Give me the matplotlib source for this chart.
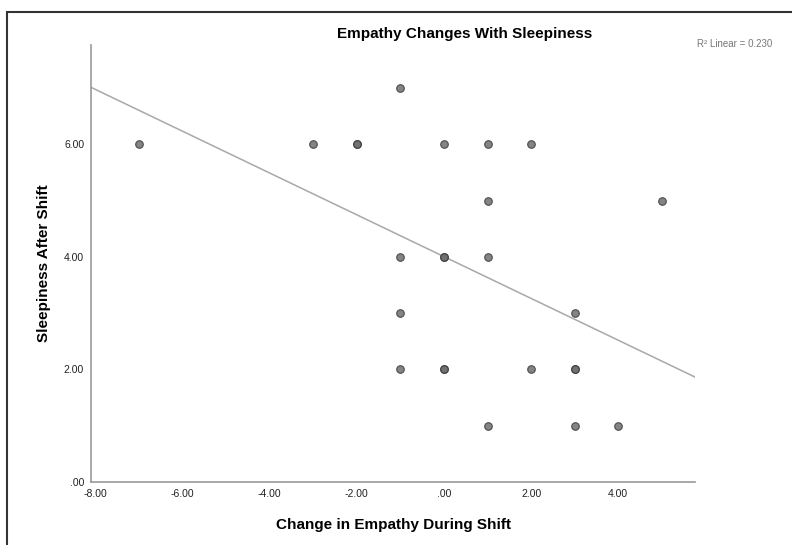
import numpy as np
import matplotlib.pyplot as plt
from matplotlib.patches import Rectangle

plt.rcParams['font.family'] = ['Liberation Sans', 'DejaVu Sans']

# Change in empathy (x) vs sleepiness after shift (y); repeated pairs are overlapping cases
empathy_change = [-7, -3, -2, -2, -1, 0, 1, 2, 1, 5, -1, 0, 0, 1, -1, 3,
                  -1, 0, 0, 2, 3, 3, 1, 3, 4]
sleepiness = [6, 6, 6, 6, 7, 6, 6, 6, 5, 5, 4, 4, 4, 4, 3, 3,
              2, 2, 2, 2, 2, 2, 1, 1, 1]
x_ticks = [-8, -6, -4, -2, 0, 2, 4]
y_ticks = [0, 2, 4, 6]
r2_label = 'R\u00b2 Linear = 0.230'


def spss_fmt(v):
    s = f"{v:.2f}"
    return ".00" if v == 0 else s


x = np.array(empathy_change, dtype=float)
y = np.array(sleepiness, dtype=float)
slope, intercept = np.polyfit(x, y, 1)

fig = plt.figure(figsize=(7.92, 5.45), dpi=100)
# outer frame like the SPSS chart window
fig.patches.append(Rectangle((7 / 792, -0.05), 1.2, 1 - 12 / 545 + 0.05,
                             transform=fig.transFigure, fill=False,
                             edgecolor='#333333', linewidth=1.5))

ax = fig.add_axes([0.115, 0.1156, 0.7625, 0.8015])
xlim = (-8.1, 5.76)
ax.set_xlim(*xlim)
ax.set_ylim(0, 7.76)

xs = np.array(xlim)
ax.plot(xs, intercept + slope * xs, color='#a8a8a8', linewidth=1.1, zorder=1)
ax.scatter(x, y, s=30, color='#6e6e6e', edgecolor='#3a3a3a', linewidth=0.8,
           alpha=0.85, zorder=2)

for side in ['top', 'right']:
    ax.spines[side].set_visible(False)
for side in ['left', 'bottom']:
    ax.spines[side].set_color('#999999')
    ax.spines[side].set_linewidth(1.2)

ax.set_xticks(x_ticks)
ax.set_xticklabels([spss_fmt(v) for v in x_ticks])
ax.set_yticks(y_ticks)
ax.set_yticklabels([spss_fmt(v) for v in y_ticks])
ax.tick_params(length=0, labelsize=7.5, pad=5, colors='#222222')

fig.text(0.587, 0.938, 'Empathy Changes With Sleepiness', ha='center', va='center',
         fontsize=11, fontweight='bold')
fig.text(0.928, 0.92, r2_label, ha='center', va='center',
         fontsize=7, color='#777777')
ax.set_xlabel('Change in Empathy During Shift', fontsize=11, fontweight='bold', labelpad=14)
ax.set_ylabel('Sleepiness After Shift', fontsize=11, fontweight='bold', labelpad=9)

fig.savefig('out.png', dpi=100)
